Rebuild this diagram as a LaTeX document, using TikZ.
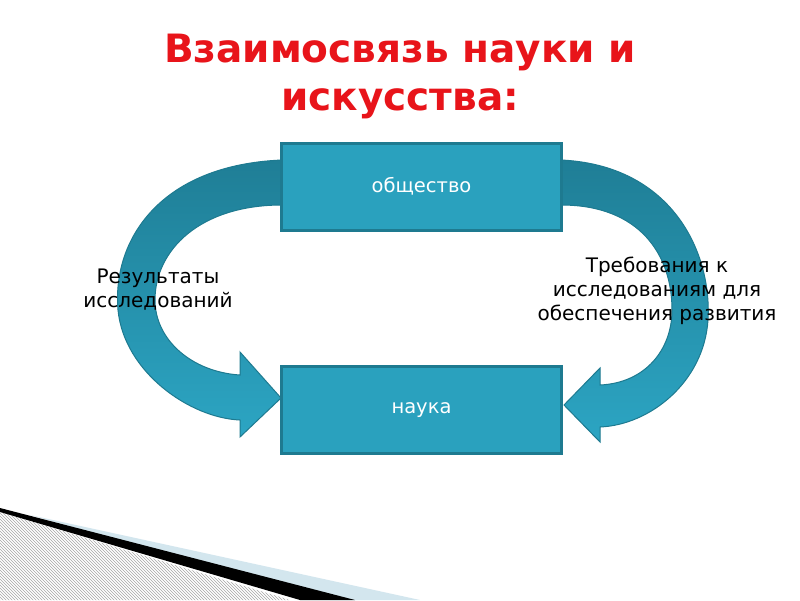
\documentclass[tikz,border=0pt]{standalone}
\usepackage{fontspec}
\setmainfont{DejaVu Sans}
\usetikzlibrary{patterns}
\definecolor{boxf}{HTML}{2AA1BE}
\definecolor{boxd}{HTML}{1E7A90}
\definecolor{arrtop}{HTML}{1F7E96}
\definecolor{arrbot}{HTML}{2CA5C3}
\definecolor{ttl}{HTML}{E8141A}
\definecolor{lb}{HTML}{D3E6EE}
\tikzset{box/.style={draw=boxd,line width=3pt,fill=boxf,minimum width=280pt,minimum height=87pt,text=white,font=\fontsize{19.5}{23}\selectfont},
arr/.style={draw=boxd,line width=1pt,top color=arrtop,bottom color=arrbot},
lbl/.style={align=center,font=\fontsize{20}{24}\selectfont}}
\begin{document}
\begin{tikzpicture}[x=1pt,y=-1pt]
\useasboundingbox (0,0) rectangle (800,600);
\fill[white] (0,0) rectangle (800,600);
% decoration
\fill[pattern=north west lines,pattern color=gray!70] (0,512) -- (290,600) -- (0,600) -- cycle;
\fill[lb] (30,515) -- (420,600) -- (330,600) -- cycle;
\fill[black] (0,508) -- (355,600) -- (300,600) -- (0,512) -- cycle;
% arrows
\path[arr] (282,160) .. controls (160,165) and (112,240) .. (118,310) .. controls (124,372) and (190,418) .. (240,420) -- (240,437) -- (281,398) -- (240,352) -- (240,375) .. controls (192,372) and (155,340) .. (155,300) .. controls (155,250) and (200,205) .. (282,205) -- cycle;
\path[arr] (561,160) .. controls (670,165) and (712,250) .. (708,320) .. controls (704,382) and (650,425) .. (600,427) -- (600,442) -- (564,405) -- (600,368) -- (600,385) .. controls (645,383) and (672,350) .. (672,310) .. controls (672,255) and (640,205) .. (561,205) -- cycle;
\node[box] (soc) at (421.5,186.5) {общество};
\node[box] (sci) at (421.5,410) {наука};
\node[font=\fontsize{39}{48}\selectfont\bfseries,text=ttl,align=center] (title) at (400,76) {Взаимосвязь науки и\\искусства:};
\node[lbl] (l) at (158,290) {Результаты\\исследований};
\node[lbl] (r) at (657,291) {Требования к\\исследованиям для\\обеспечения развития};
\end{tikzpicture}
\end{document}
